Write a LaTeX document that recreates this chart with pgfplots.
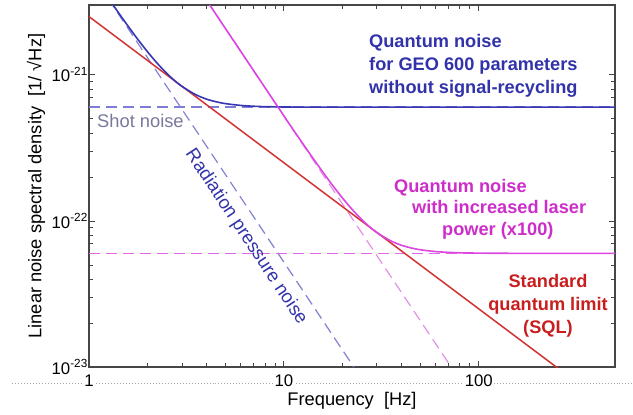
\documentclass[border=0pt]{standalone}
\usepackage{fontspec}
\setmainfont{Liberation Sans}
\usepackage{pgfplots}
\pgfplotsset{compat=1.18}
\definecolor{qblue}{RGB}{55,55,180}
\definecolor{qbluetext}{RGB}{50,50,170}
\definecolor{bluedash}{RGB}{130,130,210}
\definecolor{bluedashh}{RGB}{125,125,215}
\definecolor{shottext}{RGB}{120,120,155}
\definecolor{qmag}{RGB}{220,70,225}
\definecolor{magtext}{RGB}{205,45,200}
\definecolor{magdash}{RGB}{228,140,232}
\definecolor{magdashh}{RGB}{222,105,228}
\definecolor{sqlred}{RGB}{210,50,50}
\definecolor{sqltext}{RGB}{200,30,30}
\definecolor{axgray}{RGB}{70,70,70}
\newcommand{\lblfont}{\fontsize{18.3bp}{20bp}\selectfont}
\newcommand{\tickfont}{\fontsize{16.8bp}{20bp}\selectfont}
\newcommand{\annfont}{\fontsize{18.2bp}{20bp}\selectfont\bfseries}
\begin{document}
\begin{tikzpicture}[x=1bp,y=1bp]
\draw[gray!70, dotted, line width=1bp] (-77,-16) -- (544,-16);
\begin{axis}[
  at={(0,0)}, anchor=south west,
  scale only axis, width=526bp, height=362bp,
  xmode=log, ymode=log,
  xmin=1, xmax=500, ymin=1e-23, ymax=3e-21,
  xtick={1,10,100}, xticklabels={1,10,100},
  ytick={1e-23,1e-22,1e-21},
  yticklabels={10\textsuperscript{-23},10\textsuperscript{-22},10\textsuperscript{-21}},
  tick align=inside,
  major tick length=6bp, minor tick length=4bp,
  axis line style={line width=1.3bp, draw=axgray},
  every tick/.style={axgray, line width=0.8bp},
  every minor tick/.style={axgray, line width=0.8bp},
  xticklabel style={font=\tickfont, fill=white, inner sep=1bp, yshift=-7bp},
  yticklabel style={font=\tickfont, inner sep=1bp},
  xlabel={Frequency\ \ [Hz]},
  ylabel={Linear noise spectral density\ \ [1/ √Hz]},
  xlabel style={font=\lblfont, at={(axis description cs:0.5,-0.0939)}, anchor=center},
  ylabel style={font=\lblfont, at={(axis description cs:-0.1008,0.5)}, anchor=center},
  clip=true,
]
% shot noise (GEO 600)
\addplot[bluedashh, line width=1.5bp, dash pattern=on 11bp off 6bp] coordinates {(1,6e-22) (500,6e-22)};
% radiation pressure noise (GEO 600)
\addplot[bluedash, line width=1.2bp, dash pattern=on 11bp off 6bp] coordinates {(1,5.22e-21) (22.85,1e-23)};
% shot noise x100
\addplot[magdashh, line width=1.5bp, dash pattern=on 11bp off 6bp] coordinates {(1,6e-23) (500,6e-23)};
% radiation pressure noise x100
\addplot[magdash, line width=1.2bp, dash pattern=on 11bp off 6bp] coordinates {(4,3.26e-21) (72.2,1e-23)};
% SQL
\addplot[sqlred, line width=1.5bp] coordinates {(1,2.5e-21) (500,5e-24)};
% quantum noise GEO 600
\addplot[qblue, line width=1.6bp, smooth] coordinates {
(1.2,3.66e-21) (1.3,3.135e-21) (1.4,2.72e-21) (1.5,2.388e-21) (1.75,1.801e-21)
(2,1.432e-21) (2.25,1.190e-21) (2.5,1.026e-21) (2.75,9.12e-22) (3,8.33e-22)
(3.5,7.35e-22) (4,6.82e-22) (4.5,6.53e-22) (5,6.35e-22) (6,6.17e-22)
(7,6.09e-22) (8,6.05e-22) (10,6.02e-22) (13,6.005e-22) (20,6.0e-22) (500,6.0e-22)};
% quantum noise x100 power
\addplot[qmag, line width=1.6bp, smooth] coordinates {
(4,3.2506e-21) (10,5.234e-22) (12,3.66e-22) (13,3.135e-22) (14,2.72e-22) (15,2.388e-22)
(17.5,1.801e-22) (20,1.432e-22) (22.5,1.190e-22) (25,1.026e-22) (27.5,9.12e-23)
(30,8.33e-23) (35,7.35e-23) (40,6.82e-23) (45,6.53e-23) (50,6.35e-23) (60,6.17e-23)
(70,6.09e-23) (80,6.05e-23) (100,6.02e-23) (130,6.005e-23) (200,6.0e-23) (500,6.0e-23)};
\end{axis}
% annotations (pixel px,py -> (px-89, 367-py))
\begin{scope}[every node/.style={inner sep=0pt, font=\annfont}]
\node[qbluetext, anchor=base west] at (280,320) {Quantum noise};
\node[qbluetext, anchor=base west] at (280,297) {for GEO 600 parameters};
\node[qbluetext, anchor=base west] at (280,274) {without signal-recycling};
\node[magtext, anchor=base west] at (305,175) {Quantum noise};
\node[magtext, anchor=base west] at (323,154) {with increased laser};
\node[magtext, anchor=base west] at (353,132) {power (x100)};
\node[sqltext, anchor=base] at (459,80) {Standard};
\node[sqltext, anchor=base] at (459,57) {quantum limit};
\node[sqltext, anchor=base] at (459,34) {(SQL)};
\end{scope}
\node[shottext, anchor=base west, inner sep=0pt, font=\lblfont] at (8,240) {Shot noise};
\node[qbluetext, rotate=-56.5, inner sep=0pt, font=\fontsize{18.6bp}{20bp}\selectfont] at (157,130) {Radiation pressure noise};
\pgfresetboundingbox
\useasboundingbox (-89,-47) rectangle (544,367);
\end{tikzpicture}
\end{document}
